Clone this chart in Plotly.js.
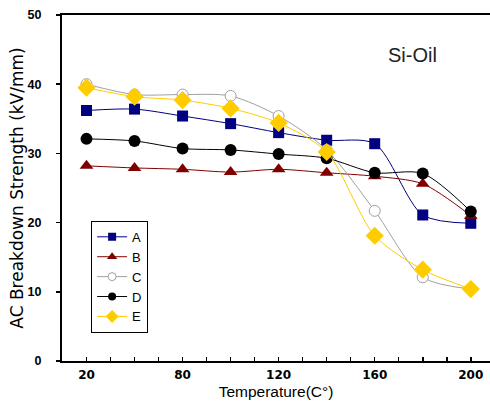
<!DOCTYPE html>
<html>
<head>
<meta charset="utf-8">
<script src="https://cdn.plot.ly/plotly-3.0.1.min.js"></script>
<style>html,body{margin:0;padding:0;background:#fff;}#chart{width:490px;height:412px;}</style>
</head>
<body>
<div id="chart"></div>
<script>
// x positions (categories in order) and their tick labels
const xIndex = [1, 2, 3, 4, 5, 6, 7, 8, 9];
const tickPositions = [1, 1.5, 2, 2.5, 3, 3.5, 4, 4.5, 5, 5.5, 6, 6.5, 7, 7.5, 8, 8.5, 9];
const tickLabels = ["20", "", "", "", "80", "", "", "", "120", "", "", "", "160", "", "", "", "200"];

const seriesNames = ["A", "B", "C", "D", "E"];
const seriesA = [36.2, 36.4, 35.4, 34.3, 33.0, 31.9, 31.4, 21.1, 19.9];
const seriesB = [28.2, 27.9, 27.7, 27.3, 27.7, 27.2, 26.7, 25.6, 21.0];
const seriesC = [40.0, 38.5, 38.5, 38.3, 35.4, 30.5, 21.7, 12.1, 10.4];
const seriesD = [32.1, 31.8, 30.7, 30.5, 29.9, 29.3, 27.2, 27.1, 21.6];
const seriesE = [39.5, 38.2, 37.7, 36.5, 34.4, 30.2, 18.1, 13.2, 10.4];

const styles = [
  {color: "#000080", symbol: "square", size: 11, fill: "#000080", lsize: 8},
  {color: "#800000", symbol: "triangle-up", size: 12, fill: "#800000", lsize: 9},
  {color: "#a0a0a0", symbol: "circle", size: 11, fill: "#ffffff", lsize: 8},
  {color: "#000000", symbol: "circle", size: 12, fill: "#000000", lsize: 8},
  {color: "#ffcc00", symbol: "diamond", size: 14, fill: "#ffcc00", lsize: 10}
];
const allSeries = [seriesA, seriesB, seriesC, seriesD, seriesE];

const traces = [];
allSeries.forEach((ys, i) => {
  const s = styles[i];
  traces.push({
    x: xIndex, y: ys, type: "scatter", mode: "lines+markers",
    name: seriesNames[i], showlegend: false,
    line: {color: s.color, width: 1, shape: "spline", smoothing: 0.8},
    marker: {symbol: s.symbol, size: s.size, color: s.fill,
             line: {color: s.color, width: s.fill === "#ffffff" ? 1 : 0}}
  });
});
// legend-only entries with smaller symbols
allSeries.forEach((ys, i) => {
  const s = styles[i];
  traces.push({
    x: [null], y: [null], type: "scatter", mode: "lines+markers",
    name: seriesNames[i], showlegend: true,
    line: {color: s.color, width: 1},
    marker: {symbol: s.symbol, size: s.lsize, color: s.fill,
             line: {color: s.color, width: s.fill === "#ffffff" ? 1 : 0}}
  });
});

const layout = {
  width: 490, height: 412,
  margin: {l: 62, r: 0, t: 15, b: 51},
  paper_bgcolor: "#ffffff", plot_bgcolor: "#ffffff",
  showlegend: true,
  legend: {
    x: 0.068, y: 0.405, xanchor: "left", yanchor: "top",
    bordercolor: "#000000", borderwidth: 1, bgcolor: "#ffffff",
    font: {family: "Liberation Sans, Arial, sans-serif", size: 13, color: "#000"},
    tracegroupgap: 0
  },
  xaxis: {
    range: [0.49, 9.4], showgrid: false, zeroline: false,
    showline: true, linecolor: "#000", linewidth: 2, mirror: true,
    tickmode: "array", tickvals: tickPositions, ticktext: tickLabels,
    ticks: "inside", ticklen: 4, tickwidth: 1.5, tickcolor: "#000",
    ticklabelstandoff: 2,
    tickfont: {family: "DejaVu Sans, sans-serif", size: 12, color: "#000", weight: "bold"},
    title: {text: "Temperature(C°)", standoff: 5,
            font: {family: "Liberation Sans, Arial, sans-serif", size: 15.5, color: "#000"}}
  },
  yaxis: {
    range: [0, 50], showgrid: false, zeroline: false,
    showline: true, linecolor: "#000", linewidth: 2,
    tickmode: "array", tickvals: [0, 10, 20, 30, 40, 50],
    ticks: "outside", ticklen: 4, tickwidth: 1.5, tickcolor: "#000",
    ticklabelstandoff: 12,
    tickfont: {family: "Liberation Sans Narrow, Arial Narrow, Liberation Sans, sans-serif", size: 12.5, color: "#000", weight: "bold"},
    title: {text: "AC Breakdown Strength (kV/mm)", standoff: 0,
            font: {family: "DejaVu Sans, sans-serif", size: 17, color: "#000"}}
  },
  annotations: [{
    text: "Si-Oil", xref: "paper", yref: "paper", x: 0.82, y: 0.885,
    xanchor: "center", yanchor: "middle", showarrow: false,
    font: {family: "Liberation Sans, Arial, sans-serif", size: 20, color: "#222"}
  }]
};

Plotly.newPlot("chart", traces, layout, {displayModeBar: false, staticPlot: true});
</script>
</body>
</html>
